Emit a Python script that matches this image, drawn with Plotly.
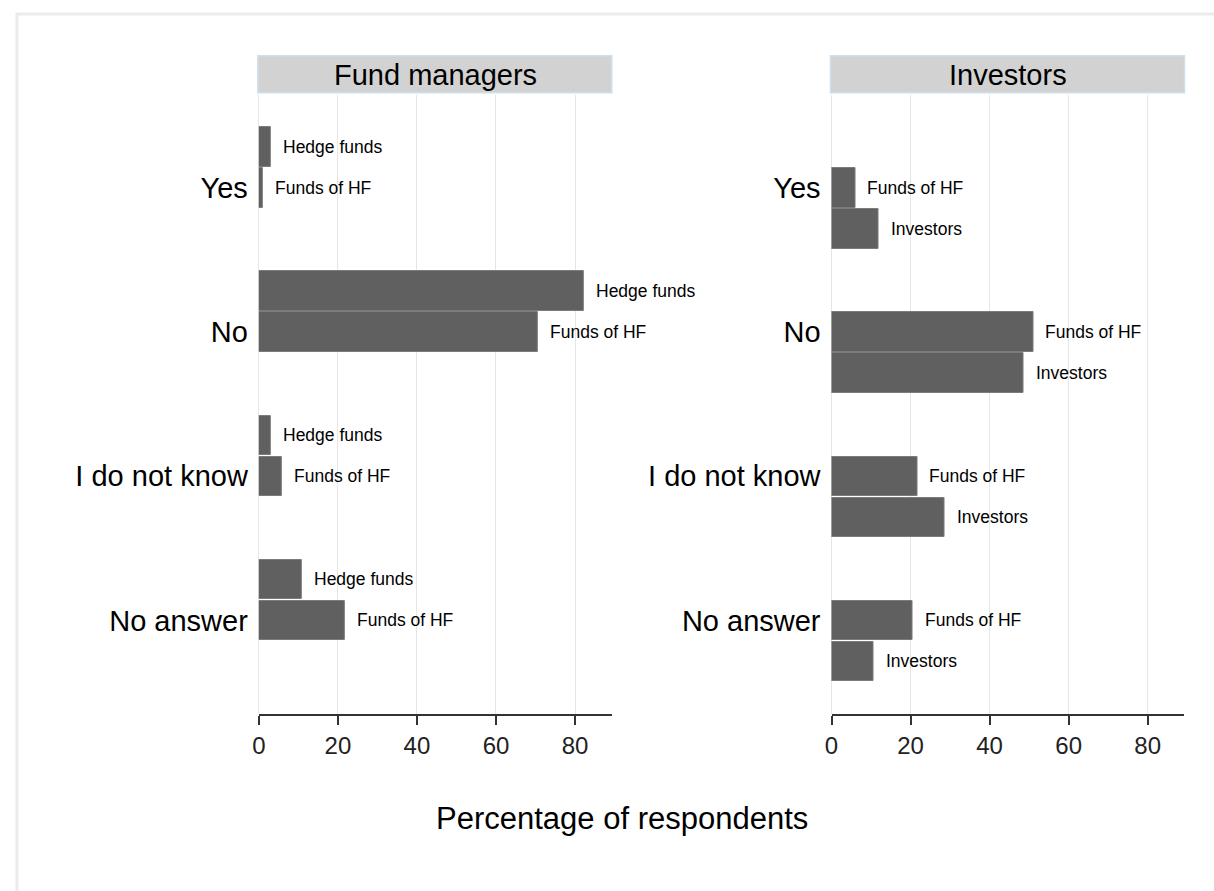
import plotly.graph_objects as go

# ---- data ----
categories = ["Yes", "No", "I do not know", "No answer"]
groups = ["Hedge funds", "Funds of HF", "Investors"]

fm_hedge_funds = [3.1, 82.3, 3.0, 10.9]
fm_funds_of_hf = [1.0, 70.7, 5.9, 21.7]

inv_funds_of_hf = [6.0, 51.1, 21.7, 20.5]
inv_investors = [11.9, 48.6, 28.7, 10.7]

panel_titles = ["Fund managers", "Investors"]
x_ticks = [0, 20, 40, 60, 80]
x_title = "Percentage of respondents"

# ---- layout constants ----
W, H = 1214, 891
CAT_STEP = 3.517
BAR_W = 0.96
BAR_COLOR = "#606060"
FONT = "Liberation Sans, Arial, sans-serif"


def ypos(cat_idx, group_idx):
    return cat_idx * CAT_STEP + group_idx


panels = [
    ("x", "y", [(0, fm_hedge_funds), (1, fm_funds_of_hf)]),
    ("x2", "y2", [(1, inv_funds_of_hf), (2, inv_investors)]),
]

fig = go.Figure()
annotations = []
for xa, ya, series in panels:
    for g_idx, vals in series:
        ys = [ypos(c, g_idx) for c in range(len(categories))]
        fig.add_trace(go.Bar(
            x=vals, y=ys, orientation="h", width=BAR_W,
            marker=dict(color=BAR_COLOR, line=dict(color="#7c7c7c", width=1)),
            xaxis=xa, yaxis=ya, showlegend=False, hoverinfo="x",
        ))
        for v, yv in zip(vals, ys):
            annotations.append(dict(
                x=v, y=yv, xref=xa, yref=ya, text=groups[g_idx],
                showarrow=False, xanchor="left", yanchor="middle", xshift=10,
                font=dict(family=FONT, size=17.5, color="#000000"),
            ))

px = lambda p: p / W
py = lambda p: 1 - p / H

dom_left = [px(253.3), px(608.3)]
dom_right = [px(829.3), px(1184.3)]
ydom = [py(714.3), py(95)]
yrange = [(714.3 - 147) / 40.98, (95 - 147) / 40.98]

tickvals_y = [ypos(c, 1) for c in range(len(categories))]

xaxis_common = dict(
    range=[0, 89.3], tickvals=x_ticks, ticktext=[str(t) for t in x_ticks],
    showgrid=True, gridcolor="#e6e6e6", gridwidth=1,
    zeroline=True, zerolinecolor="#e6e6e6", zerolinewidth=1,
    showline=True, linecolor="#333333", linewidth=1.5,
    ticks="outside", ticklen=9, tickcolor="#333333", tickwidth=1.5,
    tickfont=dict(family=FONT, size=24, color="#222222"),
    fixedrange=True,
)
yaxis_common = dict(
    range=yrange, tickvals=tickvals_y, ticktext=categories,
    showgrid=False, zeroline=False, showline=False, ticks="",
    ticklabelstandoff=10,
    tickfont=dict(family=FONT, size=29, color="#000000"),
    fixedrange=True,
)

fig.update_layout(
    width=W, height=H,
    margin=dict(l=0, r=0, t=0, b=0),
    paper_bgcolor="#ffffff", plot_bgcolor="#ffffff",
    bargap=0,
    xaxis=dict(domain=dom_left, anchor="y", **xaxis_common),
    xaxis2=dict(domain=dom_right, anchor="y2", **xaxis_common),
    yaxis=dict(domain=ydom, anchor="x", **yaxis_common),
    yaxis2=dict(domain=ydom, anchor="x2", **yaxis_common),
)

shapes = [
    # outer frame
    dict(type="rect", xref="paper", yref="paper",
         x0=px(10), x1=1.05, y0=-0.05, y1=py(14),
         line=dict(color="#ebebeb", width=3), fillcolor="rgba(0,0,0,0)", layer="below"),
]
for (xa, _, _), title in zip(panels, panel_titles):
    xd = xa + " domain"
    shapes.append(dict(type="rect", xref=xd, yref="paper",
                       x0=-0.003, x1=1.0, y0=py(92.7), y1=py(55.7),
                       fillcolor="#d2d2d2", line=dict(color="#cfe0ea", width=1.5)))
    annotations.append(dict(x=0.5, y=py(74.5), xref=xd, yref="paper", text=title,
                            showarrow=False, xanchor="center", yanchor="middle",
                            font=dict(family=FONT, size=29, color="#000000")))

annotations.append(dict(x=px(619), y=py(818), xref="paper", yref="paper", text=x_title,
                        showarrow=False, xanchor="center", yanchor="middle",
                        font=dict(family=FONT, size=31, color="#000000")))

fig.update_layout(shapes=shapes, annotations=annotations)
fig.write_html(
    "out.html",
    config={"displayModeBar": False},
    post_script="document.body.style.margin='0';document.body.style.overflow='hidden';",
)
